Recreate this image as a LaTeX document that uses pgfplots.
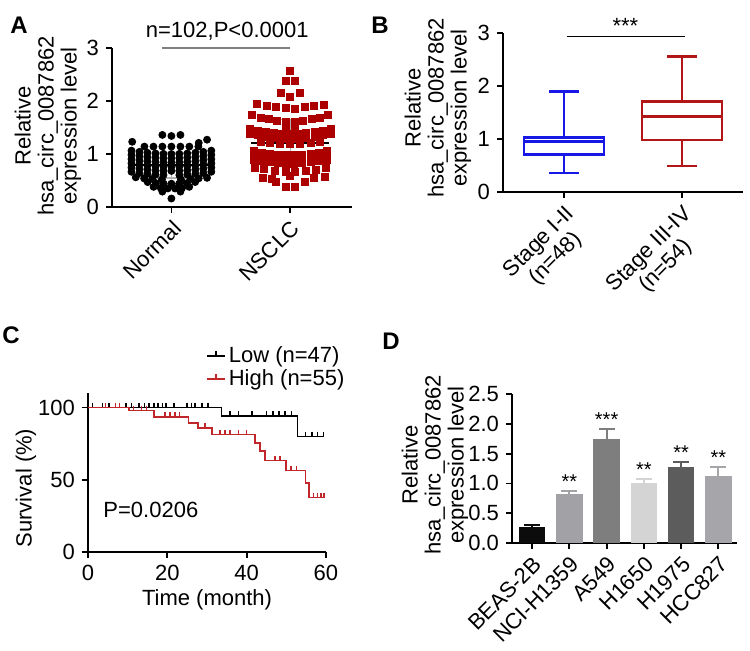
\documentclass[border=0pt]{standalone}
\usepackage{fontspec}
\setmainfont{Liberation Sans}
\usepackage{pgfplots}
\pgfplotsset{compat=1.18}
\usepgfplotslibrary{statistics}

\definecolor{dred}{RGB}{172,0,0}
\definecolor{kmred}{RGB}{192,38,42}
\definecolor{bblue}{RGB}{24,24,230}
\definecolor{bred}{RGB}{178,22,22}
\definecolor{g1}{RGB}{12,12,12}
\definecolor{g2}{RGB}{162,162,166}
\definecolor{g3}{RGB}{126,126,126}
\definecolor{g4}{RGB}{212,212,212}
\definecolor{g5}{RGB}{92,92,92}
\definecolor{g6}{RGB}{166,166,170}

\newcommand{\fs}{\fontsize{11}{12}\selectfont}

\pgfplotsset{prism/.style={
  scale only axis,
  axis x line*=bottom, axis y line*=left,
  axis line style={-, line width=0.9pt},
  every tick/.style={black, line width=0.9pt},
  tick align=outside,
  major tick length=3pt,
  tick label style={font=\fs},
  /pgf/number format/assume math mode=true,
  clip=false,
}}

\pgfplotstableread{
x y
-0.076 1.36
0 1.34
0.076 1.36
-0.33 1.23
0.23 1.21
0.30 1.27
-0.227 1.14
-0.151 1.14
-0.076 1.14
0 1.14
0.076 1.14
0.151 1.14
0.227 1.14
-0.336 1.064
-0.269 1.041
-0.202 1.023
-0.134 1.010
-0.067 1.003
0 1.000
0.067 1.003
0.134 1.010
0.202 1.023
0.269 1.041
0.336 1.064
-0.336 0.984
-0.269 0.961
-0.202 0.943
-0.134 0.930
-0.067 0.923
0 0.920
0.067 0.923
0.134 0.930
0.202 0.943
0.269 0.961
0.336 0.984
-0.336 0.904
-0.269 0.881
-0.202 0.863
-0.134 0.850
-0.067 0.843
0 0.840
0.067 0.843
0.134 0.850
0.202 0.863
0.269 0.881
0.336 0.904
-0.336 0.824
-0.269 0.801
-0.202 0.783
-0.134 0.770
-0.067 0.763
0 0.760
0.067 0.763
0.134 0.770
0.202 0.783
0.269 0.801
0.336 0.824
-0.336 0.744
-0.269 0.721
-0.202 0.703
-0.134 0.690
-0.067 0.683
0 0.680
0.067 0.683
0.134 0.690
0.202 0.703
0.269 0.721
0.336 0.744
-0.336 0.664
-0.269 0.641
-0.202 0.623
-0.134 0.610
-0.067 0.603
0.067 0.603
0.134 0.610
0.202 0.623
0.269 0.641
0.336 0.664
-0.30 0.56
-0.23 0.54
-0.16 0.53
-0.08 0.52
0.08 0.52
0.16 0.53
0.23 0.54
0.30 0.55
-0.20 0.47
-0.13 0.45
-0.065 0.44
0 0.44
0.065 0.44
0.13 0.45
0.20 0.47
-0.15 0.38
-0.09 0.36
-0.03 0.35
0.03 0.35
0.09 0.36
0.15 0.38
-0.076 0.29
0.076 0.29
0 0.16
}\normaltab

\pgfplotstableread{
x y
1.00 2.56
0.96 2.37
1.04 2.37
0.92 2.15
1.08 2.15
1.00 2.07
0.72 1.94
0.80 1.91
0.88 1.89
0.96 1.87
1.04 1.86
1.12 1.88
1.20 1.90
1.28 1.93
0.68 1.73
0.75 1.69
0.82 1.66
0.89 1.63
0.964 1.61
1.036 1.61
1.11 1.63
1.18 1.66
1.25 1.69
1.32 1.73
0.96 1.52
1.04 1.52
0.660 1.476
0.728 1.441
0.796 1.415
0.864 1.395
0.932 1.384
1.000 1.380
1.068 1.384
1.136 1.395
1.204 1.415
1.272 1.441
1.340 1.476
0.660 1.386
0.728 1.351
0.796 1.325
0.864 1.305
0.932 1.294
1.000 1.290
1.068 1.294
1.136 1.305
1.204 1.325
1.272 1.351
1.340 1.386
0.75 1.23
0.83 1.21
0.915 1.19
1.00 1.19
1.085 1.19
1.17 1.21
1.25 1.23
0.694 1.058
0.762 1.027
0.830 1.004
0.898 0.989
0.966 0.981
1.034 0.981
1.102 0.989
1.170 1.004
1.238 1.027
1.306 1.058
0.694 0.978
0.762 0.947
0.830 0.924
0.898 0.909
0.966 0.901
1.034 0.901
1.102 0.909
1.170 0.924
1.238 0.947
1.306 0.978
0.694 0.898
0.762 0.867
0.830 0.844
0.898 0.829
0.966 0.821
1.034 0.821
1.102 0.829
1.170 0.844
1.238 0.867
1.306 0.898
0.70 0.73
0.78 0.71
0.87 0.68
0.96 0.66
1.04 0.66
1.13 0.68
1.22 0.70
1.30 0.73
1.00 0.58
0.77 0.55
0.85 0.53
1.20 0.54
1.29 0.56
0.88 0.47
1.12 0.47
0.96 0.38
1.04 0.38
}\nsclctab

\begin{document}
\begin{tikzpicture}
\path[use as bounding box] (0pt,0pt) rectangle (375pt,325pt);

% ---------------- Panel A ----------------
\begin{axis}[prism,
  at={(56pt,221.5pt)}, anchor=south west,
  width=120pt, height=79.5pt,
  xmin=-0.5, xmax=1.52, ymin=0, ymax=3,
  xtick={0,1}, xticklabels={Normal,NSCLC},
  xticklabel style={rotate=45, anchor=north east, inner sep=2pt},
  ytick={0,1,2,3},
]
\addplot[only marks, mark=*, mark size=1.75pt, black] table[x=x,y=y] {\normaltab};
\addplot[only marks, mark=square*, mark size=1.75pt, dred, mark options={draw=none,fill=dred}] table[x=x,y=y] {\nsclctab};
\addplot[black, line width=1pt] coordinates {(-0.33,0.79) (0.33,0.79)};
\addplot[gray!60, line width=0.7pt] coordinates {(0,0.55) (0,1.03)};
\addplot[gray!60, line width=0.7pt] coordinates {(-0.12,1.03) (0.12,1.03)};
\addplot[gray!60, line width=0.7pt] coordinates {(-0.12,0.55) (0.12,0.55)};
\addplot[black, line width=1pt] coordinates {(0.67,1.20) (1.33,1.20)};
\addplot[gray!60, line width=0.7pt] coordinates {(1,0.76) (1,1.65)};
\addplot[gray!60, line width=0.7pt] coordinates {(0.9,1.65) (1.1,1.65)};
\addplot[gray!60, line width=0.7pt] coordinates {(0.9,0.76) (1.1,0.76)};
\draw[gray, line width=0.6pt] (axis cs:-0.08,3) -- (axis cs:1.0,3);
\node[font=\fs] at (axis cs:0.47,3.31) {n=102,P<0.0001};
\end{axis}

% ---------------- Panel B ----------------
\begin{axis}[prism,
  at={(251.5pt,229pt)}, anchor=south west,
  width=120pt, height=79.5pt,
  xmin=-0.52, xmax=1.52, ymin=0, ymax=3,
  xtick={0,1}, xticklabels={{Stage I-II\\(n=48)},{Stage III-IV\\(n=54)}},
  xticklabel style={rotate=45, anchor=north east, align=center, inner sep=2pt, font=\fontsize{11}{11.5}\selectfont},
  ytick={0,1,2,3},
  boxplot/draw direction=y,
]
\addplot[bblue, line width=1.3pt, solid, boxplot prepared={draw position=0,
  lower whisker=0.36, lower quartile=0.71, median=0.95,
  upper quartile=1.03, upper whisker=1.90, box extend=0.68, whisker extend=0.25}]
  coordinates {};
\addplot[bred, line width=1.3pt, solid, boxplot prepared={draw position=1,
  lower whisker=0.49, lower quartile=0.98, median=1.43,
  upper quartile=1.71, upper whisker=2.56, box extend=0.68, whisker extend=0.25}]
  coordinates {};
\draw[black, line width=0.5pt] (axis cs:0.02,2.94) -- (axis cs:1.03,2.94);
\node[font=\fs] at (axis cs:0.52,3.13) {***};
\end{axis}

% ---------------- Panel C ----------------
\begin{axis}[prism,
  at={(44pt,49pt)}, anchor=south west,
  width=119pt, height=79.5pt,
  xmin=0, xmax=60, ymin=0, ymax=110,
  xtick={0,20,40,60}, ytick={0,50,100},
  legend style={at={(axis description cs:0.47,1.34)}, anchor=north west,
    draw=none, fill=none, font=\fs, row sep=-1pt,
    nodes={inner sep=1.5pt}},
  legend cell align=left,
  legend image code/.code={
    \draw[#1] (0pt,0pt) -- (9pt,0pt);
    \draw[#1] (4.5pt,0pt) -- (4.5pt,2.5pt);},
]
\addplot[black, line width=0.8pt, const plot] coordinates {
  (0,100) (33.7,94) (52.8,80) (59.5,80)};
\addlegendentry{Low (n=47)}
\addplot[kmred, line width=0.8pt, const plot] coordinates {
  (0,100) (10.3,98) (16.6,93.5) (25.3,89.4) (27.8,85.9) (31.3,81.2)
  (42.1,75.5) (43.4,69.7) (44.6,63.4) (49.9,56.5) (54.8,47.7)
  (55.7,37.7) (59.5,37.7)};
\addlegendentry{High (n=55)}
\addplot[forget plot, only marks, black, mark=|, mark size=1.2pt,
  mark options={line width=0.7pt, yshift=1.2pt}] coordinates {
  (1.1,100) (3.6,100) (5.3,100) (9.6,100) (11.0,100) (12.9,100) (14.2,100)
  (15.4,100) (16.6,100) (17.6,100) (18.8,100) (19.7,100) (21.7,100)
  (25.0,100) (26.1,100) (27.0,100) (28.7,100) (30.3,100)
  (35.8,94) (37.9,94) (41.3,94) (45.0,94) (46.6,94) (48.2,94) (49.7,94) (51.3,94)
  (54.9,80) (56.5,80) (57.8,80) (59.3,80)};
\addplot[forget plot, only marks, kmred, mark=|, mark size=1.2pt,
  mark options={line width=0.7pt, yshift=1.2pt}] coordinates {
  (4.4,100) (7.0,100) (7.9,100)
  (11.4,98) (13.5,98) (14.8,98)
  (19.4,93.5) (20.7,93.5) (21.9,93.5) (23.0,93.5)
  (29.5,85.9)
  (33.3,81.2) (34.5,81.2) (35.8,81.2) (37.9,81.2) (40.0,81.2)
  (47.1,63.4) (48.4,63.4) (51.2,56.5) (52.6,56.5)
  (56.8,37.7) (57.8,37.7) (58.7,37.7) (59.5,37.7)};
\node[font=\fs, anchor=west, inner sep=0pt] at (axis cs:3.8,29) {P=0.0206};
\end{axis}

% ---------------- Panel D ----------------
\begin{axis}[prism,
  at={(256pt,53.5pt)}, anchor=south west,
  width=112.5pt, height=74.5pt,
  xmin=-0.54, xmax=5.5, ymin=0, ymax=2.5,
  xtick={0,1,2,3,4,5},
  xticklabels={BEAS-2B,NCI-H1359,A549,H1650,H1975,HCC827},
  xticklabel style={rotate=45, anchor=north east, inner sep=2pt},
  ytick={0,0.5,1,1.5,2,2.5},
  yticklabel style={/pgf/number format/.cd, fixed, fixed zerofill, precision=1},
]
\addplot[ybar, bar shift=0pt, bar width=0.71, fill=g1, draw=none,
  error bars/.cd, y dir=plus, y explicit,
  error bar style={line width=1pt, g1}, error mark options={rotate=90, mark size=4pt, line width=1pt, g1}]
  coordinates {(0,0.27) +- (0,0.04)};
\addplot[ybar, bar shift=0pt, bar width=0.71, fill=g2, draw=none,
  error bars/.cd, y dir=plus, y explicit,
  error bar style={line width=1pt, g2}, error mark options={rotate=90, mark size=4pt, line width=1pt, g2}]
  coordinates {(1,0.82) +- (0,0.06)};
\addplot[ybar, bar shift=0pt, bar width=0.71, fill=g3, draw=none,
  error bars/.cd, y dir=plus, y explicit,
  error bar style={line width=1pt, g3}, error mark options={rotate=90, mark size=4pt, line width=1pt, g3}]
  coordinates {(2,1.74) +- (0,0.18)};
\addplot[ybar, bar shift=0pt, bar width=0.71, fill=g4, draw=none,
  error bars/.cd, y dir=plus, y explicit,
  error bar style={line width=1pt, g4}, error mark options={rotate=90, mark size=4pt, line width=1pt, g4}]
  coordinates {(3,1.00) +- (0,0.08)};
\addplot[ybar, bar shift=0pt, bar width=0.71, fill=g5, draw=none,
  error bars/.cd, y dir=plus, y explicit,
  error bar style={line width=1pt, g5}, error mark options={rotate=90, mark size=4pt, line width=1pt, g5}]
  coordinates {(4,1.27) +- (0,0.09)};
\addplot[ybar, bar shift=0pt, bar width=0.71, fill=g6, draw=none,
  error bars/.cd, y dir=plus, y explicit,
  error bar style={line width=1pt, g6}, error mark options={rotate=90, mark size=4pt, line width=1pt, g6}]
  coordinates {(5,1.13) +- (0,0.14)};
\node[font=\fontsize{10}{11}\selectfont, anchor=south, inner sep=1pt] at (axis cs:1,0.88) {**};
\node[font=\fontsize{10}{11}\selectfont, anchor=south, inner sep=1pt] at (axis cs:2,1.92) {***};
\node[font=\fontsize{10}{11}\selectfont, anchor=south, inner sep=1pt] at (axis cs:3,1.08) {**};
\node[font=\fontsize{10}{11}\selectfont, anchor=south, inner sep=1pt] at (axis cs:4,1.36) {**};
\node[font=\fontsize{10}{11}\selectfont, anchor=south, inner sep=1pt] at (axis cs:5,1.27) {**};
\end{axis}

% ---------------- labels ----------------
\node[rotate=90, align=center, font=\fontsize{11}{11.5}\selectfont] at (24pt,262pt) {Relative\\hsa\_circ\_0087862\\expression level};
\node[rotate=90, align=center, font=\fontsize{11}{11.5}\selectfont] at (219pt,271pt) {Relative\\hsa\_circ\_0087862\\expression level};
\node[rotate=90, align=center, font=\fontsize{11}{11.5}\selectfont] at (217.5pt,92.5pt) {Relative\\hsa\_circ\_0087862\\expression level};
\node[rotate=90, font=\fs] at (13pt,81pt) {Survival (\%)};
\node[font=\fs] at (103.5pt,25pt) {Time (month)};
\node[font=\bfseries\fontsize{12}{12}\selectfont] at (9.5pt,312.5pt) {A};
\node[font=\bfseries\fontsize{12}{12}\selectfont] at (190pt,312.5pt) {B};
\node[font=\bfseries\fontsize{12}{12}\selectfont] at (5.5pt,157.5pt) {C};
\node[font=\bfseries\fontsize{12}{12}\selectfont] at (195.5pt,154.5pt) {D};
\end{tikzpicture}
\end{document}
